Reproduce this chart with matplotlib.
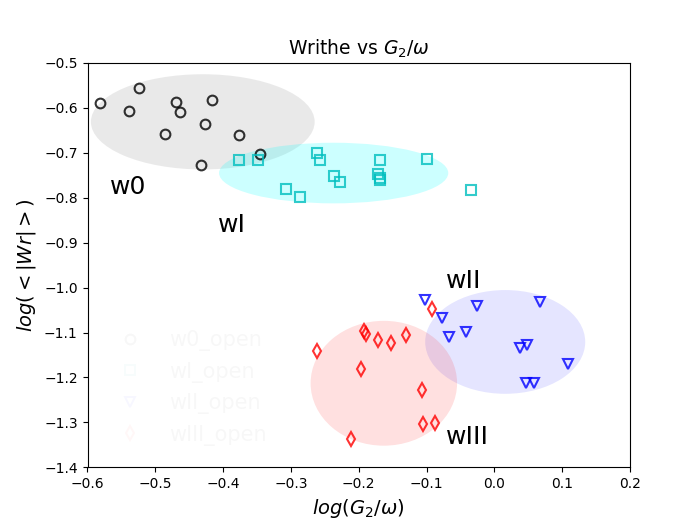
import matplotlib
matplotlib.use('Agg')
import matplotlib.pyplot as plt
from matplotlib.patches import Ellipse

# w0 (circles)
w0_x = [-0.582, -0.524, -0.539, -0.469, -0.463, -0.416, -0.427, -0.485, -0.377, -0.346, -0.433]
w0_y = [-0.588, -0.555, -0.606, -0.586, -0.609, -0.582, -0.635, -0.658, -0.661, -0.703, -0.726]

# wI (squares)
wI_x = [-0.376, -0.349, -0.261, -0.257, -0.169, -0.100, -0.236, -0.227, -0.171, -0.169, -0.169,
        -0.307, -0.286, -0.035]
wI_y = [-0.716, -0.716, -0.701, -0.717, -0.716, -0.713, -0.752, -0.764, -0.747, -0.755, -0.760,
        -0.781, -0.798, -0.782]

# wII (triangles)
wII_x = [-0.103, -0.077, -0.067, -0.042, -0.026, 0.068, 0.038, 0.048, 0.109, 0.047, 0.058]
wII_y = [-1.028, -1.068, -1.109, -1.098, -1.040, -1.033, -1.134, -1.127, -1.170, -1.213, -1.213]

# wIII (diamonds)
wIII_x = [-0.261, -0.192, -0.190, -0.171, -0.152, -0.130, -0.197, -0.106, -0.105, -0.088, -0.211, -0.092]
wIII_y = [-1.141, -1.097, -1.103, -1.117, -1.124, -1.106, -1.182, -1.228, -1.304, -1.302, -1.336, -1.047]

# ellipses: centre x, centre y, width, height
ell_centres = [(-0.430, -0.631), (-0.237, -0.745), (0.016, -1.121), (-0.163, -1.213)]
ell_widths = [0.330, 0.338, 0.236, 0.216]
ell_heights = [0.212, 0.135, 0.231, 0.278]
ell_colors = ['gray', 'cyan', 'blue', 'red']
ell_alphas = [0.17, 0.2, 0.1, 0.12]

labels = ['w0', 'wI', 'wII', 'wIII']
label_pos = [(-0.567, -0.792), (-0.407, -0.877), (-0.071, -1.0), (-0.071, -1.348)]

fig, ax = plt.subplots(figsize=(7, 5.25), dpi=100)

for c, w, h, col, a in zip(ell_centres, ell_widths, ell_heights, ell_colors, ell_alphas):
    ax.add_patch(Ellipse(c, w, h, facecolor=col, alpha=a, edgecolor='none'))

series = [(w0_x, w0_y, 'o', 'k'), (wI_x, wI_y, 's', 'c'),
          (wII_x, wII_y, 'v', 'b'), (wIII_x, wIII_y, 'd', 'r')]
for (xs, ys, m, col), lab in zip(series, labels):
    ax.plot(xs, ys, m, mfc='none', mec=col, ms=7, mew=1.5, alpha=0.8, label=lab + '_open')

for lab, (tx, ty) in zip(labels, label_pos):
    ax.text(tx, ty, lab, fontsize=18)

# legend is almost invisible in the original
leg = ax.legend(loc='upper left', bbox_to_anchor=(0.005, 0.385), frameon=False,
                fontsize=15, handletextpad=0.9)
for t in leg.get_texts():
    t.set_alpha(0.03)
for hnd in leg.legend_handles:
    hnd.set_alpha(0.03)

ax.set_xlim(-0.6, 0.2)
ax.set_ylim(-1.4, -0.5)
ax.set_title(r'Writhe vs $G_2/\omega$', fontsize=13.5)
ax.set_xlabel(r'$log(G_2/\omega)$', fontsize=14)
ax.set_ylabel(r'$log(<|Wr|>)$', fontsize=14)

plt.savefig('out.png')
